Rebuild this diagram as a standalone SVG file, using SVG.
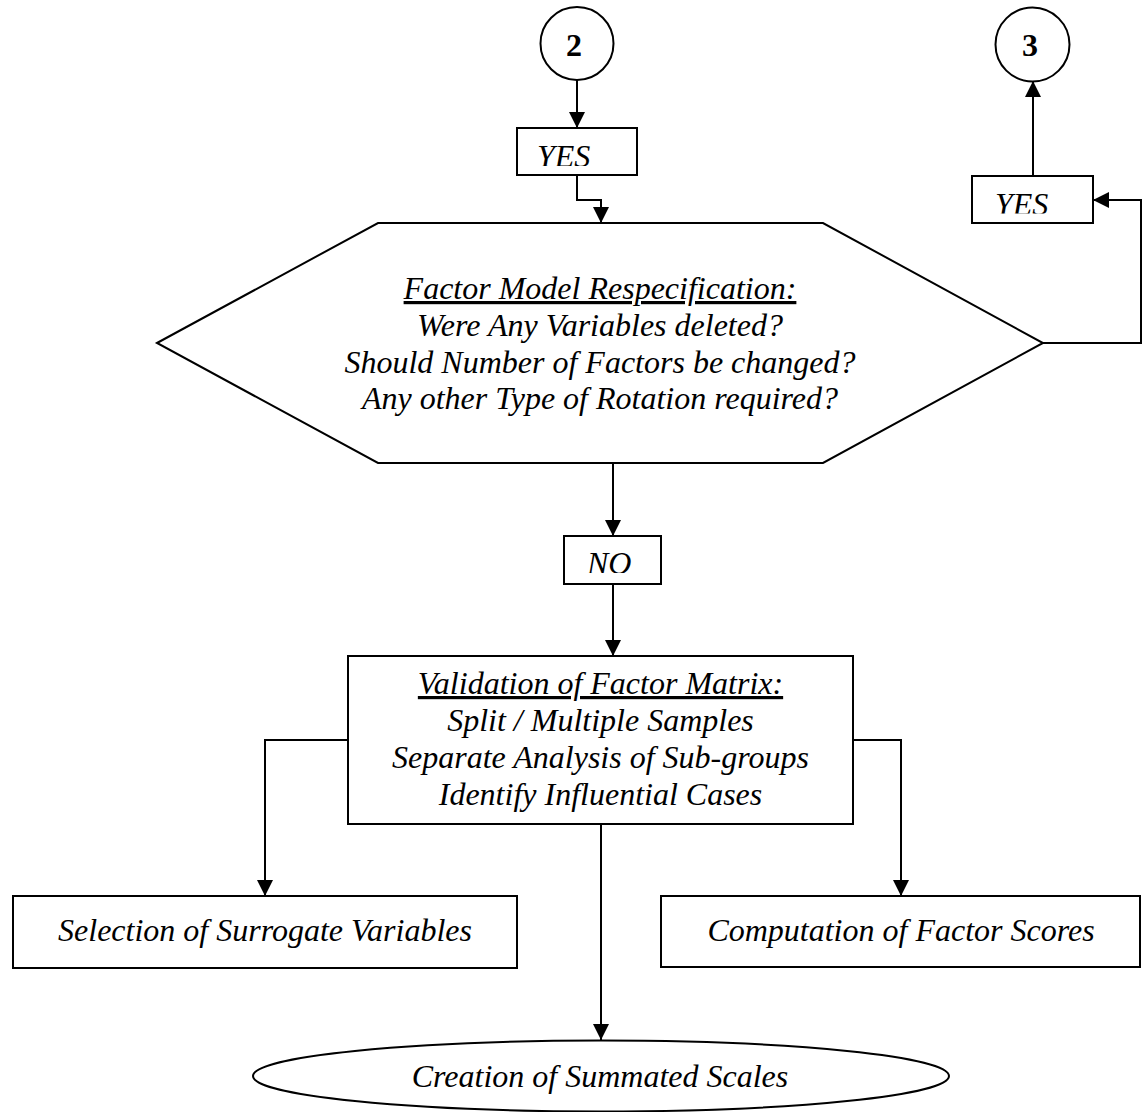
<svg xmlns="http://www.w3.org/2000/svg" width="1147" height="1112" viewBox="0 0 1147 1112">
  <style>
    .shape { fill: #fff; stroke: #000; stroke-width: 2; }
    .wire { fill: none; stroke: #000; stroke-width: 2; }
    .txt { font-family: "Liberation Serif", "Times New Roman", serif; font-style: italic; font-size: 32px; fill: #000; }
    .mid { text-anchor: middle; }
    .num { font-family: "Liberation Serif", "Times New Roman", serif; font-weight: bold; font-size: 32px; fill: #000; text-anchor: middle; }
  </style>
  <defs>
    <marker id="arrow" markerUnits="userSpaceOnUse" markerWidth="16" markerHeight="16" viewBox="0 0 16 16" refX="16" refY="8" orient="auto">
      <path d="M0,0 L16,8 L0,16 z" fill="#000"/>
    </marker>
    <clipPath id="clipYes1"><rect x="518" y="129" width="118" height="37"/></clipPath>
    <clipPath id="clipYes2"><rect x="973" y="177" width="119" height="36.5"/></clipPath>
    <clipPath id="clipNo"><rect x="565" y="537" width="95" height="36"/></clipPath>
  </defs>

  <!-- connectors -->
  <g id="connectors">
    <line class="wire" x1="577" y1="80" x2="577" y2="128" marker-end="url(#arrow)"/>
    <polyline class="wire" points="577,175 577,200 601,200 601,223" marker-end="url(#arrow)"/>
    <polyline class="wire" points="1043,343 1141,343 1141,200 1093,200" marker-end="url(#arrow)"/>
    <line class="wire" x1="1033" y1="176" x2="1033" y2="81" marker-end="url(#arrow)"/>
    <line class="wire" x1="613" y1="463" x2="613" y2="536" marker-end="url(#arrow)"/>
    <line class="wire" x1="613" y1="584" x2="613" y2="656" marker-end="url(#arrow)"/>
    <polyline class="wire" points="348,740 265,740 265,896" marker-end="url(#arrow)"/>
    <polyline class="wire" points="853,740 901,740 901,896" marker-end="url(#arrow)"/>
    <line class="wire" x1="601" y1="824" x2="601" y2="1040" marker-end="url(#arrow)"/>
  </g>

  <!-- connector 2 -->
  <g id="conn2">
    <circle class="shape" cx="577" cy="43.5" r="36.5"/>
    <text class="num" x="574" y="56">2</text>
  </g>

  <!-- connector 3 -->
  <g id="conn3">
    <circle class="shape" cx="1032.5" cy="44.5" r="37"/>
    <text class="num" x="1030" y="56">3</text>
  </g>

  <!-- YES label above the decision -->
  <g id="yes1">
    <rect class="shape" x="517" y="128" width="120" height="47"/>
    <text class="txt" x="537" y="167" clip-path="url(#clipYes1)">YES</text>
  </g>

  <!-- YES label on the loop back -->
  <g id="yes2">
    <rect class="shape" x="972" y="176" width="121" height="47"/>
    <text class="txt" x="995" y="214.5" clip-path="url(#clipYes2)">YES</text>
  </g>

  <!-- decision: respecification -->
  <g id="respec">
    <polygon class="shape" points="157,343 378,223 823,223 1043,343 823,463 378,463"/>
    <text class="txt mid" x="600" y="299"><tspan text-decoration="underline">Factor Model Respecification:</tspan></text>
    <text class="txt mid" x="600" y="336">Were Any Variables deleted?</text>
    <text class="txt mid" x="600" y="372.5">Should Number of Factors be changed?</text>
    <text class="txt mid" x="600" y="409">Any other Type of Rotation required?</text>
  </g>

  <!-- NO label -->
  <g id="no">
    <rect class="shape" x="564" y="536" width="97" height="48"/>
    <text class="txt" x="587" y="574" clip-path="url(#clipNo)">NO</text>
  </g>

  <!-- validation step -->
  <g id="validation">
    <rect class="shape" x="348" y="656" width="505" height="168"/>
    <text class="txt mid" x="600.5" y="694"><tspan text-decoration="underline">Validation of Factor Matrix:</tspan></text>
    <text class="txt mid" x="600.5" y="731">Split / Multiple Samples</text>
    <text class="txt mid" x="600.5" y="768">Separate Analysis of Sub-groups</text>
    <text class="txt mid" x="600.5" y="805">Identify Influential Cases</text>
  </g>

  <!-- surrogate variables -->
  <g id="surrogate">
    <rect class="shape" x="13" y="896" width="504" height="72"/>
    <text class="txt mid" x="265" y="941">Selection of Surrogate Variables</text>
  </g>

  <!-- factor scores -->
  <g id="scores">
    <rect class="shape" x="661" y="896" width="479" height="71"/>
    <text class="txt mid" x="901" y="941">Computation of Factor Scores</text>
  </g>

  <!-- summated scales -->
  <g id="summated">
    <ellipse class="shape" cx="601" cy="1076" rx="348" ry="35.5"/>
    <text class="txt mid" x="600" y="1087">Creation of Summated Scales</text>
  </g>
</svg>
